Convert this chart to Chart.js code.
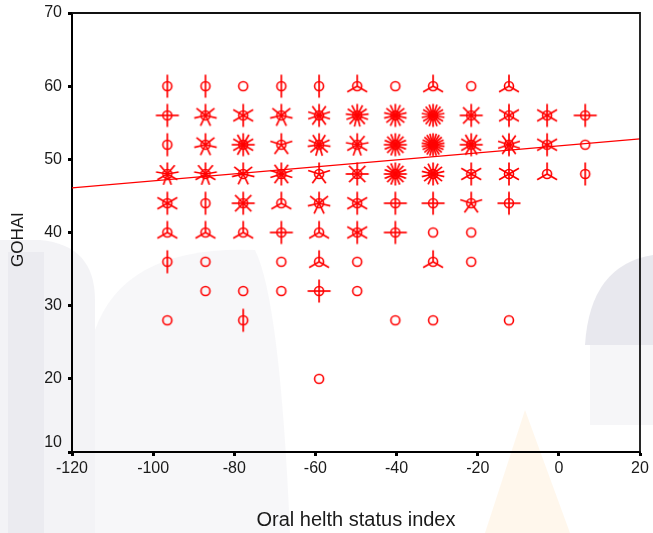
<!DOCTYPE html>
<html>
<head>
<meta charset="utf-8">
<script src="https://cdn.jsdelivr.net/npm/chart.js@4.4.0/dist/chart.umd.min.js"></script>
<style>
  html, body { margin: 0; padding: 0; background: #fff; }
  #wrap { width: 653px; height: 533px; }
</style>
</head>
<body>
<div id="wrap"><canvas id="c" width="653" height="533"></canvas></div>
<script>
// ---- data ----
const columnX = [-96.5, -87.1, -77.8, -68.4, -59.1, -49.7, -40.3, -31.0, -21.6, -12.3, -2.9, 6.5];
const rowY = [60, 56, 52, 48, 44, 40, 36, 32, 28, 20];
const countsY60 = [2, 2, 1, 2, 2, 3, 1, 3, 1, 3, 0, 0];
const countsY56 = [4, 7, 6, 7, 10, 13, 14, 18, 8, 6, 6, 4];
const countsY52 = [2, 7, 12, 5, 11, 9, 16, 22, 12, 10, 6, 1];
const countsY48 = [9, 9, 7, 10, 5, 8, 16, 14, 6, 6, 3, 2];
const countsY44 = [6, 2, 8, 3, 7, 6, 4, 4, 5, 4, 0, 0];
const countsY40 = [3, 3, 3, 4, 3, 6, 4, 1, 1, 0, 0, 0];
const countsY36 = [2, 1, 0, 1, 3, 1, 0, 3, 1, 0, 0, 0];
const countsY32 = [0, 1, 1, 1, 4, 1, 0, 0, 0, 0, 0, 0];
const countsY28 = [1, 0, 2, 0, 0, 0, 1, 1, 0, 1, 0, 0];
const countsY20 = [0, 0, 0, 0, 1, 0, 0, 0, 0, 0, 0, 0];
const fitLineX = [-120, 20];
const fitLineY = [46.1, 52.8];
const xTicks = [-120, -100, -80, -60, -40, -20, 0, 20];
const yTicks = [10, 20, 30, 40, 50, 60, 70];
const xTitle = 'Oral helth status index';
const yTitle = 'GOHAI   ';

const countRows = [countsY60, countsY56, countsY52, countsY48, countsY44,
                   countsY40, countsY36, countsY32, countsY28, countsY20];

// ---- sunflower glyphs ----
const RED = '#ff0000';
const glyphCache = {};
function sunflower(n) {
  if (glyphCache[n]) return glyphCache[n];
  const S = 30, c = S / 2;
  const cv = document.createElement('canvas');
  cv.width = S; cv.height = S;
  const g = cv.getContext('2d');
  g.strokeStyle = RED;
  g.lineWidth = 1.6;
  g.beginPath();
  g.arc(c, c, 4.5, 0, Math.PI * 2);
  g.stroke();
  if (n > 1) {
    g.lineWidth = 1.7;
    for (let i = 0; i < n; i++) {
      const a = -Math.PI / 2 + i * 2 * Math.PI / n;
      g.beginPath();
      g.moveTo(c, c);
      g.lineTo(c + 11.5 * Math.cos(a), c + 11.5 * Math.sin(a));
      g.stroke();
    }
  }
  glyphCache[n] = cv;
  return cv;
}

const flowerPoints = [];
rowY.forEach((y, r) => {
  countRows[r].forEach((n, ci) => {
    if (n > 0) flowerPoints.push({ x: columnX[ci], y: y, n: n });
  });
});
const fitPoints = fitLineX.map((x, i) => ({ x: x, y: fitLineY[i] }));

// ---- faint watermark background + frame ----
const backdrop = {
  id: 'backdrop',
  beforeDraw(chart) {
    const g = chart.ctx;
    g.save();
    g.fillStyle = '#ffffff';
    g.fillRect(0, 0, chart.width, chart.height);
    g.fillStyle = 'rgba(232,232,238,0.5)';
    g.beginPath();
    g.moveTo(0, 240); g.lineTo(40, 240);
    g.quadraticCurveTo(95, 245, 95, 300);
    g.lineTo(95, 533); g.lineTo(0, 533); g.closePath();
    g.fill();
    g.fillStyle = 'rgba(222,222,230,0.35)';
    g.fillRect(8, 252, 36, 281);
    g.fillStyle = 'rgba(240,240,244,0.55)';
    g.beginPath();
    g.moveTo(95, 330);
    g.quadraticCurveTo(125, 245, 255, 250);
    g.quadraticCurveTo(280, 300, 290, 533);
    g.lineTo(95, 533); g.closePath();
    g.fill();
    g.fillStyle = 'rgba(214,214,224,0.55)';
    g.beginPath();
    g.moveTo(585, 345);
    g.quadraticCurveTo(590, 265, 653, 255);
    g.lineTo(653, 345); g.closePath();
    g.fill();
    g.fillStyle = 'rgba(238,238,242,0.55)';
    g.fillRect(590, 345, 63, 80);
    g.fillStyle = 'rgba(255,196,120,0.14)';
    g.beginPath();
    g.moveTo(525, 410); g.lineTo(570, 533); g.lineTo(485, 533); g.closePath();
    g.fill();
    g.restore();
  },
  afterDraw(chart) {
    const a = chart.chartArea;
    const g = chart.ctx;
    g.save();
    g.strokeStyle = '#111';
    g.lineWidth = 1.8;
    g.beginPath();
    g.moveTo(a.left, a.top); g.lineTo(a.right, a.top); g.lineTo(a.right, a.bottom);
    g.stroke();
    g.restore();
  }
};

new Chart(document.getElementById('c'), {
  type: 'scatter',
  data: {
    datasets: [
      {
        label: 'cases',
        data: flowerPoints,
        pointStyle: (ctx) => sunflower(ctx.raw ? ctx.raw.n : 1),
        pointRadius: 12,
        pointHoverRadius: 12
      },
      {
        type: 'line',
        label: 'fit',
        data: fitPoints,
        borderColor: RED,
        borderWidth: 1.4,
        pointRadius: 0,
        showLine: true,
        fill: false
      }
    ]
  },
  options: {
    responsive: false,
    animation: false,
    events: [],
    layout: { padding: { top: 12, right: 10, left: 0, bottom: 0 } },
    plugins: { legend: { display: false }, tooltip: { enabled: false } },
    scales: {
      x: {
        type: 'linear',
        min: -120, max: 20,
        afterBuildTicks: (s) => { s.ticks = xTicks.map(v => ({ value: v })); },
        afterFit: (s) => { s.height = 81; s.paddingLeft = 0; s.paddingRight = 0; },
        grid: { display: true, drawOnChartArea: false, drawTicks: true, tickLength: 4, tickWidth: 3, color: '#000' },
        border: { display: true, color: '#000', width: 2 },
        ticks: { color: '#1a1a1a', font: { family: '"Liberation Sans", Arial, sans-serif', size: 16 }, padding: 3 },
        title: { display: true, text: xTitle, color: '#1a1a1a', font: { family: '"Liberation Sans", Arial, sans-serif', size: 20 }, padding: { bottom: 1 } }
      },
      y: {
        type: 'linear',
        min: 10, max: 70,
        afterBuildTicks: (s) => { s.ticks = yTicks.map(v => ({ value: v })); },
        afterFit: (s) => { s.width = 72; s.paddingTop = 0; s.paddingBottom = 0; },
        grid: { display: true, drawOnChartArea: false, drawTicks: true, tickLength: 4, tickWidth: 3, color: '#000' },
        border: { display: true, color: '#000', width: 2 },
        ticks: {
          color: '#1a1a1a', font: { family: '"Liberation Sans", Arial, sans-serif', size: 16 }, padding: 6,
          callback: (v) => (v === yTicks[0] ? [String(v), ''] : String(v))
        },
        title: { display: true, text: yTitle, color: '#1a1a1a', font: { family: '"Liberation Sans", Arial, sans-serif', size: 17 }, padding: { top: 8 } }
      }
    }
  },
  plugins: [backdrop]
});
</script>
</body>
</html>
